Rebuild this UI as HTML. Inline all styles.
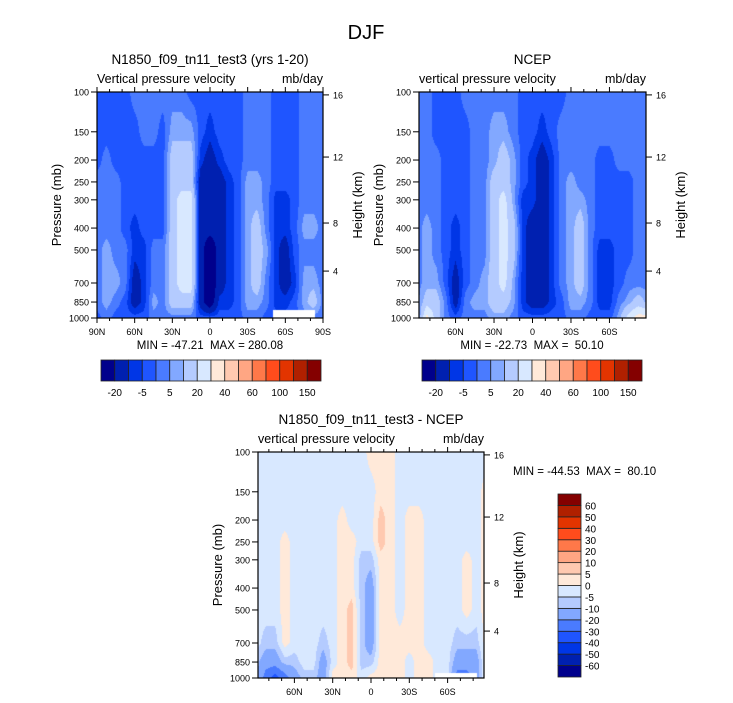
<!DOCTYPE html>
<html><head><meta charset="utf-8">
<style>
html,body{margin:0;padding:0;background:#fff;}
#wrap{position:relative;width:733px;height:703px;overflow:hidden;font-family:"Liberation Sans",sans-serif;}
canvas{position:absolute;}
svg{position:absolute;left:0;top:0;}
</style></head>
<body>
<div id="wrap">
<canvas id="c1"></canvas>
<canvas id="c2"></canvas>
<canvas id="c3"></canvas>
<svg id="ov" width="733" height="703"></svg>
</div>
<script>
// ---- data ----
const lats = [90,82.5,75,67.5,60,52.5,45,37.5,30,22.5,15,7.5,0,-7.5,-15,-22.5,-30,-37.5,-45,-52.5,-60,-67.5,-75,-82.5,-90];
const pressures = [100,150,200,250,300,400,500,700,850,1000];
const pressureTicks = [100,150,200,250,300,400,500,700,850,1000];
const heightTicks = [16,12,8,4];
const heightTickPressure = [103,194,380,620];
const latTicksFull = [90,60,30,0,-30,-60,-90];
const latTickLabelsFull = ["90N","60N","30N","0","30S","60S","90S"];
const latTicksPart = [60,30,0,-30,-60];
const latTickLabelsPart = ["60N","30N","0","30S","60S"];
const levelsTop = [-20,-10,-5,0,5,10,20,30,40,50,60,80,100,120,150];
const levelLabelsTop = ["-20","-5","5","20","40","60","100","150"];
const levelsDiff = [-60,-50,-40,-30,-20,-10,-5,0,5,10,20,30,40,50,60];
const palette = ["#00008c","#0020b0","#0036e6","#1f55ff","#4a7bff","#82a8ff","#b4cbff","#d8e8ff","#ffe9d9","#ffc9b0","#ffa683","#ff7849","#ff4c1c","#e33400","#b02000","#840000"];

const modelField = [
[-2.5,-2.5,-2.5,2.5,2.5,2.5,2.5,2.5,2.5,-2.5],
[-2.5,-2.5,2.5,2.5,2.5,2.5,7.5,7.5,7.5,2.5],
[-2.5,-2.5,-2.5,2.5,2.5,2.5,2.5,7.5,2.5,-2.5],
[-2.5,-2.5,-2.5,-2.5,-2.5,-2.5,2.5,2.5,-2.5,-2.5],
[2.5,-2.5,-2.5,-2.5,-2.5,-7.5,-7.5,-15,-15,-2.5],
[2.5,2.5,-2.5,-2.5,-2.5,-2.5,-7.5,-7.5,-7.5,-2.5],
[2.5,2.5,-2.5,-2.5,-2.5,-2.5,2.5,2.5,7.5,2.5],
[2.5,-2.5,-2.5,-2.5,-2.5,-2.5,2.5,2.5,2.5,2.5],
[2.5,7.5,15,15,15,15,15,15,15,2.5],
[2.5,7.5,15,15,25,25,25,25,15,2.5],
[-2.5,7.5,15,15,25,25,25,25,15,2.5],
[-2.5,-2.5,-7.5,-15,-15,-15,-15,-15,-15,-2.5],
[-2.5,-7.5,-15,-15,-15,-15,-30,-30,-30,-2.5],
[-2.5,-2.5,-7.5,-15,-15,-15,-15,-15,-7.5,-2.5],
[-2.5,-2.5,-2.5,-7.5,-7.5,-7.5,-7.5,-7.5,-7.5,-2.5],
[-2.5,-2.5,-2.5,-2.5,-2.5,-2.5,-2.5,-2.5,-2.5,-2.5],
[2.5,2.5,2.5,7.5,7.5,7.5,7.5,7.5,7.5,2.5],
[2.5,2.5,2.5,7.5,7.5,15,15,15,7.5,2.5],
[2.5,2.5,2.5,2.5,2.5,2.5,7.5,2.5,2.5,-2.5],
[-2.5,-2.5,-2.5,-2.5,-7.5,-7.5,-7.5,-7.5,-7.5,-2.5],
[-2.5,-2.5,-2.5,-2.5,-7.5,-7.5,-15,-15,-7.5,-2.5],
[-2.5,-2.5,-2.5,-2.5,-2.5,-2.5,-2.5,-7.5,-2.5,-2.5],
[2.5,2.5,2.5,2.5,2.5,7.5,2.5,7.5,7.5,2.5],
[2.5,2.5,2.5,2.5,2.5,7.5,2.5,7.5,15,2.5],
[2.5,2.5,2.5,2.5,2.5,2.5,2.5,2.5,2.5,2.5]];

const ncepField = [
[2.5,2.5,2.5,2.5,2.5,2.5,2.5,2.5,2.5,-2.5],
[2.5,2.5,2.5,2.5,2.5,7.5,7.5,7.5,15,35],
[-2.5,-2.5,2.5,2.5,2.5,2.5,2.5,7.5,15,15],
[-2.5,-2.5,-2.5,-2.5,-2.5,-2.5,-2.5,-2.5,2.5,2.5],
[-2.5,-2.5,-2.5,-2.5,-2.5,-7.5,-7.5,-15,-15,-2.5],
[2.5,-2.5,-2.5,-2.5,-2.5,-2.5,-2.5,-2.5,2.5,2.5],
[2.5,2.5,2.5,2.5,2.5,2.5,2.5,2.5,7.5,2.5],
[2.5,2.5,2.5,2.5,2.5,2.5,2.5,7.5,7.5,2.5],
[2.5,7.5,7.5,15,15,15,15,15,15,7.5],
[2.5,7.5,15,15,25,25,25,25,15,7.5],
[2.5,2.5,7.5,7.5,7.5,15,15,7.5,7.5,2.5],
[-2.5,-2.5,-2.5,-2.5,-7.5,-7.5,-7.5,-7.5,-7.5,-2.5],
[-2.5,-2.5,-7.5,-7.5,-7.5,-15,-15,-15,-15,-2.5],
[-2.5,-7.5,-15,-15,-15,-15,-15,-15,-15,-2.5],
[-2.5,-2.5,-7.5,-7.5,-7.5,-7.5,-7.5,-7.5,-7.5,-2.5],
[-2.5,2.5,2.5,2.5,2.5,2.5,2.5,2.5,-2.5,-2.5],
[2.5,2.5,2.5,7.5,7.5,7.5,7.5,7.5,7.5,2.5],
[2.5,2.5,2.5,2.5,7.5,15,15,15,7.5,2.5],
[2.5,2.5,2.5,2.5,2.5,2.5,2.5,2.5,2.5,-2.5],
[2.5,2.5,-2.5,-2.5,-2.5,-2.5,-7.5,-7.5,-7.5,-2.5],
[2.5,2.5,-2.5,-2.5,-2.5,-2.5,-7.5,-7.5,-7.5,-2.5],
[2.5,2.5,2.5,-2.5,-2.5,-2.5,-2.5,-2.5,2.5,7.5],
[2.5,2.5,2.5,-2.5,-2.5,-2.5,-2.5,2.5,7.5,25],
[2.5,2.5,2.5,2.5,2.5,2.5,2.5,2.5,15,35],
[2.5,2.5,2.5,2.5,2.5,2.5,2.5,2.5,7.5,35]];

const diffField = [
[-2.5,-2.5,-2.5,-2.5,-2.5,-2.5,-2.5,-2.5,-7.5,-7.5],
[-2.5,-2.5,-2.5,-2.5,-2.5,-2.5,-2.5,-7.5,-15,-25],
[-2.5,-2.5,-2.5,-2.5,-2.5,-2.5,-2.5,-7.5,-15,-35],
[-2.5,-2.5,-2.5,2.5,2.5,2.5,2.5,2.5,-7.5,-25],
[-2.5,-2.5,-2.5,-2.5,-2.5,-2.5,-2.5,-2.5,-7.5,-15],
[-2.5,-2.5,-2.5,-2.5,-2.5,-2.5,-2.5,-2.5,-2.5,-7.5],
[-2.5,-2.5,-2.5,-2.5,-2.5,-2.5,-2.5,-2.5,-2.5,-7.5],
[-2.5,-2.5,-2.5,-2.5,-2.5,-2.5,-2.5,-7.5,-15,-15],
[-2.5,-2.5,-2.5,-2.5,-2.5,-2.5,-2.5,-2.5,-2.5,2.5],
[-2.5,-2.5,2.5,2.5,2.5,2.5,2.5,2.5,2.5,2.5],
[-2.5,-2.5,-2.5,2.5,2.5,2.5,7.5,7.5,7.5,2.5],
[-2.5,-2.5,-2.5,-2.5,-7.5,-7.5,-7.5,-7.5,-7.5,-2.5],
[2.5,-2.5,-2.5,-2.5,-7.5,-15,-15,-15,-7.5,2.5],
[2.5,2.5,7.5,7.5,2.5,2.5,2.5,2.5,2.5,2.5],
[2.5,2.5,2.5,2.5,2.5,2.5,2.5,2.5,2.5,2.5],
[-2.5,-2.5,-2.5,-2.5,-2.5,-2.5,-2.5,2.5,2.5,2.5],
[-2.5,-2.5,2.5,2.5,2.5,2.5,2.5,2.5,-2.5,-2.5],
[-2.5,-2.5,2.5,2.5,2.5,2.5,2.5,2.5,2.5,2.5],
[-2.5,-2.5,-2.5,-2.5,-2.5,-2.5,-2.5,-2.5,2.5,2.5],
[-2.5,-2.5,-2.5,-2.5,-2.5,-2.5,-2.5,-2.5,-2.5,-2.5],
[-2.5,-2.5,-2.5,-2.5,-2.5,-2.5,-2.5,-2.5,-2.5,-2.5],
[-2.5,-2.5,-2.5,-2.5,-2.5,-2.5,-2.5,-7.5,-15,-25],
[-2.5,-2.5,-2.5,-2.5,2.5,2.5,2.5,-7.5,-15,-25],
[-2.5,-2.5,-2.5,-2.5,-2.5,-2.5,-2.5,-7.5,-15,-15],
[-2.5,2.5,2.5,2.5,2.5,2.5,2.5,2.5,2.5,2.5]];

// ---- layout ----
const NS="http://www.w3.org/2000/svg";
const ov=document.getElementById('ov');
function mk(tag,attrs,parent){const e=document.createElementNS(NS,tag);for(const k in attrs)e.setAttribute(k,attrs[k]);(parent||ov).appendChild(e);return e;}
function txt(x,y,s,size,anchor,parent,rot){const t=mk('text',{x:x,y:y,'font-size':size,'text-anchor':anchor||'middle','font-family':'Liberation Sans, sans-serif',fill:'#000'},parent);if(rot)t.setAttribute('transform','rotate(-90 '+x+' '+y+')');t.textContent=s;return t;}

function makeY(top,bot){return p=>top+(Math.log10(p)-2)*(bot-top);}
function makeX(l,r,lat0,lat1){return lat=>l+(lat0-lat)/(lat0-lat1)*(r-l);}

function classOf(v,levels){let k=0;while(k<levels.length&&v>=levels[k])k++;return k;}
function hexRgb(h){return [parseInt(h.substr(1,2),16),parseInt(h.substr(3,2),16),parseInt(h.substr(5,2),16)];}
const palRgb=palette.map(hexRgb);

function sample(field,lat,lp){
  let i=0;while(i<lats.length-2&&lat<lats[i+1])i++;
  let ti=(lats[i]-lat)/(lats[i]-lats[i+1]);ti=Math.max(0,Math.min(1,ti));
  const lps=pressures.map(p=>Math.log10(p));
  let j=0;while(j<lps.length-2&&lp>lps[j+1])j++;
  let tj=(lp-lps[j])/(lps[j+1]-lps[j]);tj=Math.max(0,Math.min(1,tj));
  const a=field[i][j],b=field[i+1][j],c=field[i][j+1],d=field[i+1][j+1];
  return (a*(1-ti)+b*ti)*(1-tj)+(c*(1-ti)+d*ti)*tj;
}

function drawField(id,field,levels,L,T,R,B,lat0,lat1,mask){
  const cv=document.getElementById(id);
  const w=R-L,h=B-T;cv.width=w;cv.height=h;cv.style.left=L+'px';cv.style.top=T+'px';
  const ctx=cv.getContext('2d');const img=ctx.createImageData(w,h);
  for(let y=0;y<h;y++){const lp=2+(y+0.5)/h;const p=Math.pow(10,lp);
    for(let x=0;x<w;x++){const lat=lat0-(x+0.5)/w*(lat0-lat1);
      let col;
      if(mask&&lat<=mask[0]&&lat>=mask[1]&&p>=mask[2]){col=[255,255,255];}
      else col=palRgb[classOf(sample(field,lat,lp),levels)];
      const o=(y*w+x)*4;img.data[o]=col[0];img.data[o+1]=col[1];img.data[o+2]=col[2];img.data[o+3]=255;}}
  ctx.putImageData(img,0,0);
}

function axes(name,L,T,R,B,lat0,lat1,ticks,tickLabels,title,subL,subR){
  const g=mk('g',{});
  
  
  const X=makeX(L,R,lat0,lat1),Y=makeY(T,B);
  mk('rect',{x:L,y:T,width:R-L,height:B-T,fill:'none',stroke:'#000','stroke-width':1.2},g);
  for(let lat=90;lat>=-90;lat-=10){ if(lat>lat0+0.01||lat<lat1-0.01)continue;const x=X(lat);const major=lat%30===0;const len=major?5:3;
    mk('line',{x1:x,y1:T,x2:x,y2:T-len,stroke:'#000','stroke-width':1},g);
    mk('line',{x1:x,y1:B,x2:x,y2:B+len,stroke:'#000','stroke-width':1},g);}
  ticks.forEach((lat,k)=>{const t=txt(X(lat),B+17,tickLabels[k],9,'middle',g);
    
    });
  pressureTicks.forEach(p=>{const y=Y(p);mk('line',{x1:L,y1:y,x2:L-6,y2:y,stroke:'#000','stroke-width':1},g);
    const t=txt(L-8,y+3.5,String(p),9,'end',g);
    
    });
  heightTicks.forEach((hk,k)=>{const y=Y(heightTickPressure[k]);mk('line',{x1:R,y1:y,x2:R+6,y2:y,stroke:'#000','stroke-width':1},g);
    const t=txt(R+10,y+3.5,String(hk),9,'start',g);
    
    });
  const yt=txt(L-36,(T+B)/2,'Pressure (mb)',13,'middle',g,true);
  
  
  const ht=txt(R+39,(T+B)/2,'Height (km)',13,'middle',g,true);
  
  
  const tt=txt((L+R)/2,T-28,title,13.5,'middle',g);
  
  
  const sl=txt(L,T-9,subL,12.5,'start',g);
  
  
  const sr=txt(R,T-9,subR,12.5,'end',g);
  
  
}

function hbar(name,L,T,R,B){
  const g=mk('g',{});
  
  
  const n=palette.length,w=(R-L)/n;
  palette.forEach((c,k)=>mk('rect',{x:L+k*w,y:T,width:w,height:B-T,fill:c,stroke:'#222','stroke-width':0.8},g));
  levelLabelsTop.forEach((s,k)=>{const t=txt(L+(2*k+1)*w,B+15,s,10,'middle',g);
    
    });
}
function vbar(name,L,T,R,B){
  const g=mk('g',{});
  
  
  const n=palette.length,h=(B-T)/n;
  palette.forEach((c,k)=>mk('rect',{x:L,y:B-(k+1)*h,width:R-L,height:h,fill:c,stroke:'#222','stroke-width':0.8},g));
  levelsDiff.forEach((v,k)=>{const t=txt(R+4,B-(k+1)*h+4,String(v),10,'start',g);
    
    });
}

drawField('c1',modelField,levelsTop,97,92,323,318,90,-90,[-50,-84,925]);
drawField('c2',ncepField,levelsTop,419,92,646,318,88.5,-88.5,null);
drawField('c3',diffField,levelsDiff,258,452,484,678,88.5,-88.5,[-50,-83,950]);

const dj=txt(366,39,'DJF',20,'middle');



axes('model-panel',97,92,323,318,90,-90,latTicksFull,latTickLabelsFull,'N1850_f09_tn11_test3 (yrs 1-20)','Vertical pressure velocity','mb/day');
axes('ncep-panel',419,92,646,318,88.5,-88.5,latTicksPart,latTickLabelsPart,'NCEP','vertical pressure velocity','mb/day');
axes('difference-panel',258,452,484,678,88.5,-88.5,latTicksPart,latTickLabelsPart,'N1850_f09_tn11_test3 - NCEP','vertical pressure velocity','mb/day');

const m1=txt(210,349,'MIN = -47.21\u00a0\u00a0MAX = 280.08',11.5,'middle');


const m2=txt(532,349,'MIN = -22.73\u00a0\u00a0MAX =\u00a0\u00a050.10',11.5,'middle');


const m3=txt(513,475,'MIN = -44.53\u00a0\u00a0MAX =\u00a0\u00a080.10',11.5,'start');



hbar('model-colorbar',101,360,321,381);
hbar('ncep-colorbar',422,360,642,381);
vbar('difference-colorbar',558,494,581,677);
</script>
</body></html>
